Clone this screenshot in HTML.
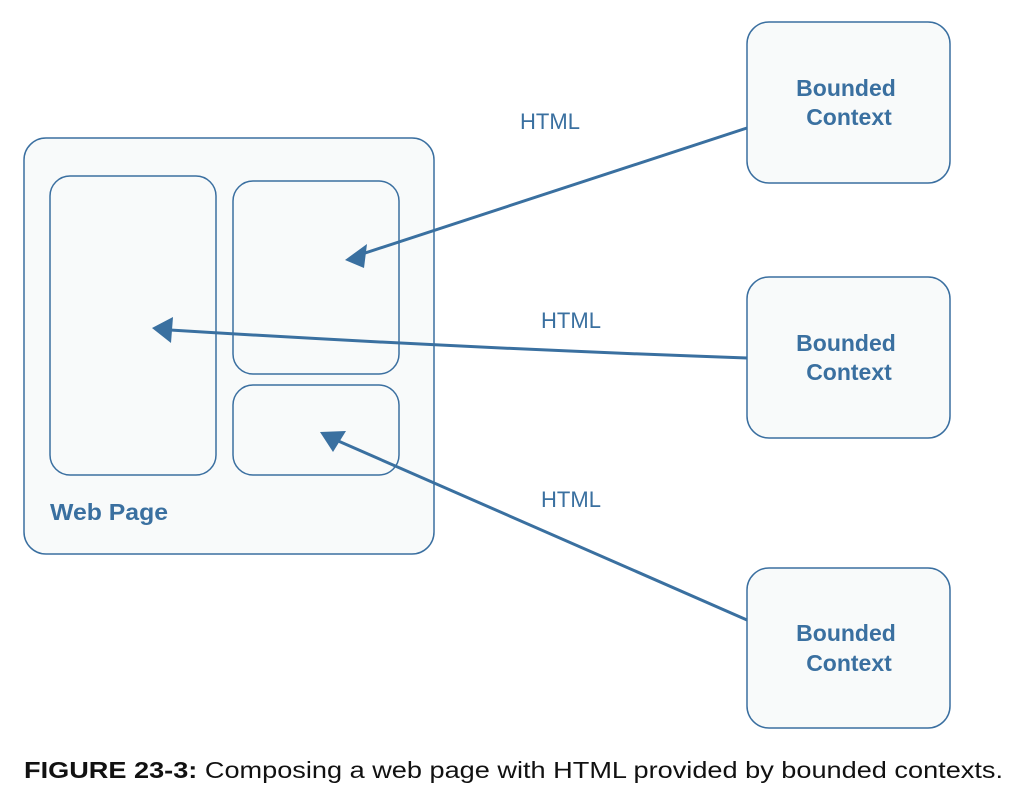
<!DOCTYPE html>
<html><head><style>
body{margin:0;background:#fff;}
</style></head><body>
<svg width="1026" height="794" xmlns="http://www.w3.org/2000/svg" style="display:block">
<g fill="#f8fafa" stroke="#3a6fa0" stroke-width="1.5">
<rect x="24" y="138" width="410" height="416" rx="22"/>
<rect x="50" y="176" width="166" height="299" rx="20"/>
<rect x="233" y="181" width="166" height="193" rx="20"/>
<rect x="233" y="385" width="166" height="90" rx="20"/>
<rect x="747" y="22" width="203" height="161" rx="22"/>
<rect x="747" y="277" width="203" height="161" rx="22"/>
<rect x="747" y="568" width="203" height="160" rx="22"/>
</g>
<g stroke="#3a70a0" stroke-width="3" fill="none">
<line x1="747" y1="128" x2="362" y2="254"/>
<path d="M747 358 Q460 348 170 330"/>
<line x1="747" y1="620" x2="336" y2="440"/>
</g>
<g fill="#3a70a0">
<polygon points="345,260 367,244 364,268"/>
<polygon points="152,328 173,317 171,343"/>
<polygon points="320,432 346,431 333,452"/>
</g>
<g font-family="Liberation Sans, sans-serif" fill="#3a70a0">
<text x="550" y="129" font-size="22" text-anchor="middle">HTML</text>
<text x="571" y="328" font-size="22" text-anchor="middle">HTML</text>
<text x="571" y="507" font-size="22" text-anchor="middle">HTML</text>
<g font-weight="bold" font-size="23" text-anchor="middle">
<text x="846" y="96">Bounded</text><text x="849" y="125">Context</text>
<text x="846" y="351">Bounded</text><text x="849" y="380">Context</text>
<text x="846" y="641">Bounded</text><text x="849" y="671">Context</text>
</g>
<text x="50" y="520" font-weight="bold" font-size="23" textLength="118" lengthAdjust="spacingAndGlyphs">Web Page</text>
</g>
<text x="24" y="778" font-family="Liberation Sans, sans-serif" font-size="23" fill="#111" textLength="979" lengthAdjust="spacingAndGlyphs"><tspan font-weight="bold">FIGURE 23-3:</tspan> Composing a web page with HTML provided by bounded contexts.</text>
</svg>
</body></html>
